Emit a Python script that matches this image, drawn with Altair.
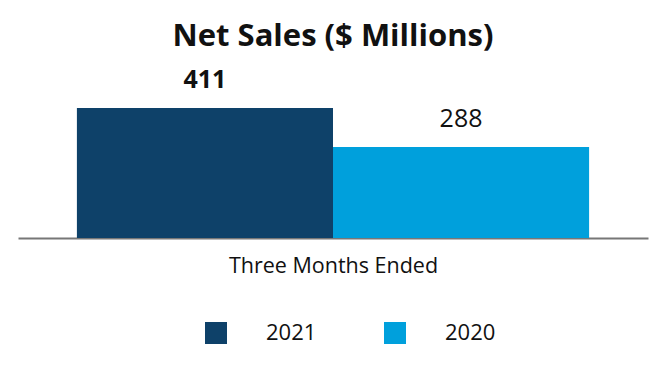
import altair as alt
import pandas as pd

years = ["2021", "2020"]
sales = [411, 288]
bold = [True, False]
colors = ["#0e4169", "#00a0dc"]

df = pd.DataFrame({"year": years, "sales": sales, "bold": bold})

x = alt.X("year:N", sort=years,
          scale=alt.Scale(paddingInner=0, paddingOuter=0.23),
          axis=alt.Axis(title="Three Months Ended", labels=False, ticks=False,
                        domainColor="#777777", domainWidth=2,
                        titleFont="Open Sans", titleFontSize=21.5, titleFontWeight="normal",
                        titleColor="#111111", titlePadding=17))
y = alt.Y("sales:Q", scale=alt.Scale(domain=[0, 411], nice=False, zero=True), axis=None)

bars = alt.Chart(df).mark_bar().encode(
    x=x, y=y,
    color=alt.Color("year:N", sort=years,
                    scale=alt.Scale(domain=years, range=colors),
                    legend=alt.Legend(title=None, orient="none", direction="horizontal",
                                      legendX=187, legendY=214,
                                      symbolType="square", symbolSize=484,
                                      symbolStrokeWidth=0, symbolOpacity=1,
                                      labelFont="Open Sans", labelFontSize=22,
                                      labelColor="#111111", labelOffset=39,
                                      columnPadding=67, padding=0))
)

lab_bold = alt.Chart(df).transform_filter("datum.bold").mark_text(
    font="Open Sans", fontSize=25, fontWeight="bold", dy=-20, baseline="alphabetic", color="#111111"
).encode(x=alt.X("year:N", sort=years), y=y, text="sales:Q")

lab_norm = alt.Chart(df).transform_filter("!datum.bold").mark_text(
    font="Open Sans", fontSize=25, fontWeight="normal", dy=-20, baseline="alphabetic", color="#111111"
).encode(x=alt.X("year:N", sort=years), y=y, text="sales:Q")

chart = alt.layer(bars, lab_bold, lab_norm).properties(
    width=630, height=130,
    autosize=alt.AutoSizeParams(type="none"),
    padding={"left": 10, "top": 100, "right": 10, "bottom": 134},
    title=alt.Title("Net Sales ($ Millions)", font="Open Sans", fontSize=31,
                    fontWeight="bold", color="#111111", offset=15, anchor="middle")
).configure_view(stroke=None)

chart.save("out.html", embed_options={"renderer": "svg", "actions": False})
